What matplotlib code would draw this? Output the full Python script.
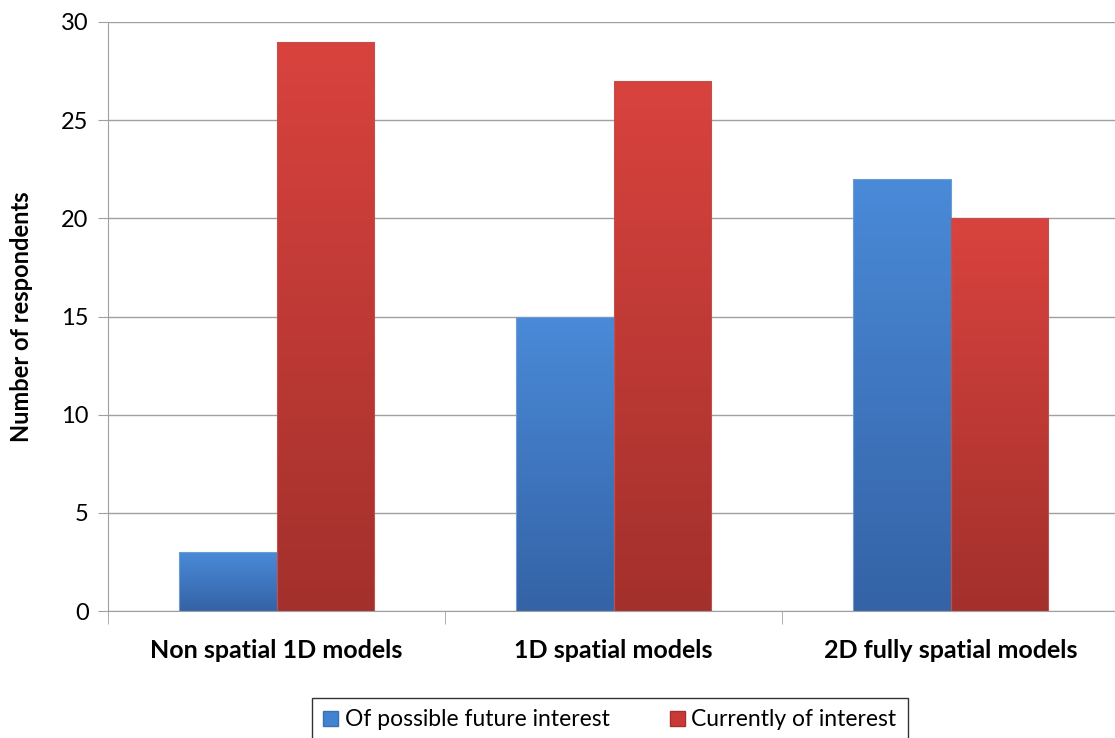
import matplotlib.pyplot as plt
import numpy as np
from matplotlib.colors import LinearSegmentedColormap
from matplotlib.patches import Patch

categories = ["Non spatial 1D models", "1D spatial models", "2D fully spatial models"]
future_interest = [3, 15, 22]
current_interest = [29, 27, 20]
series_names = ["Of possible future interest", "Currently of interest"]

plt.rcParams["font.family"] = ["Lato", "DejaVu Sans"]

fig = plt.figure(figsize=(11.15, 7.38), dpi=100)
# plot area runs slightly past the right edge of the canvas
ax = fig.add_axes([108 / 1115, 1 - 611 / 738, (1119 - 108) / 1115, (611 - 22) / 738])

blue_map = LinearSegmentedColormap.from_list("b", ["#3463a6", "#4a8ad8"])
red_map = LinearSegmentedColormap.from_list("r", ["#a3302c", "#d9433e"])

width = 0.288
x = np.arange(len(categories))


def gradient_bars(xs, heights, cmap, edge):
    bars = ax.bar(xs, heights, width, color="none", edgecolor=edge, linewidth=0.8, zorder=3)
    grad = np.linspace(0, 1, 256).reshape(-1, 1)
    for bar in bars:
        x0, y0 = bar.get_x(), bar.get_y()
        w, h = bar.get_width(), bar.get_height()
        im = ax.imshow(grad, cmap=cmap, aspect="auto", origin="lower",
                       extent=[x0, x0 + w, y0, y0 + h], zorder=2)
        im.set_clip_path(bar)
    return bars


gradient_bars(x - width / 2, future_interest, blue_map, "#6f9cd0")
gradient_bars(x + width / 2, current_interest, red_map, "#c0504d")

ax.set_xlim(-0.5, 2.5)
ax.set_ylim(0, 30)
ax.set_yticks(range(0, 31, 5))
ax.yaxis.grid(True, color="#a0a0a0", linewidth=1.0, zorder=0)
ax.set_axisbelow(True)

ax.set_xticks(x)
ax.set_xticklabels(categories, fontsize=18, fontweight="bold")
ax.tick_params(axis="x", length=0, pad=20)
ax.set_xticks([-0.5, 0.5, 1.5, 2.5], minor=True)
ax.tick_params(axis="x", which="minor", length=9, color="#a0a0a0")
ax.tick_params(axis="y", length=7, color="#a0a0a0", labelsize=17, pad=7)

for side in ["top", "right"]:
    ax.spines[side].set_visible(False)
for side in ["left", "bottom"]:
    ax.spines[side].set_color("#a0a0a0")

ax.set_ylabel("Number of respondents", fontsize=17, fontweight="bold")
ax.yaxis.set_label_coords(-0.074, 0.5)

handles = [Patch(facecolor="#4183d0", edgecolor="#3a6fb0"),
           Patch(facecolor="#c93a36", edgecolor="#a3302c")]
leg = fig.legend(handles, series_names, loc="upper center", ncol=2,
                 bbox_to_anchor=(610 / 1115, 1 - 698 / 738), frameon=True, fancybox=False,
                 fontsize=16.5, handlelength=0.65, handleheight=0.65, handletextpad=0.3,
                 columnspacing=2.6, borderpad=0.5, borderaxespad=0)
leg.get_frame().set_edgecolor("black")
leg.get_frame().set_linewidth(1.0)

fig.savefig("out.png", dpi=100)
